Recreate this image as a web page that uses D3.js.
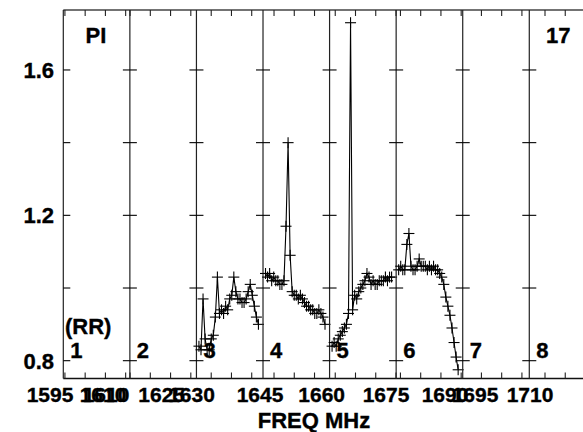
<!DOCTYPE html>
<html><head><meta charset="utf-8">
<script src="https://cdn.jsdelivr.net/npm/d3@7"></script>
<style>
html,body{margin:0;padding:0;background:#fff;}
svg{display:block;}
text{font-family:"Liberation Sans",Arial,sans-serif;font-weight:bold;fill:#000;stroke:#000;stroke-width:0.35px;}
</style></head>
<body>
<svg id="chart" width="583" height="432"></svg>
<script>
// ---- data ----
const panelNumbers = ["1","2","3","4","5","6","7","8"];
// start frequency (MHz) of each panel's axis
const panelStartFreq = [1594.6, 1609.95, 1626.35, 1642.28, 1658.6, 1673.94, 1690.38, 1706.12];
const panelSpanMHz = 16.44;
// spectra (PI) for panels 3..6, one value per channel
const spec3 = [0.84,0.83,0.97,0.86,0.83,0.83,0.86,0.87,0.92,1.03,0.93,0.94,0.93,0.95,0.94,0.97,0.98,1.03,0.99,0.97,0.97,0.96,0.96,0.97,0.99,1.01,0.98,0.95,0.92,0.90];
const spec4 = [1.04,1.03,1.04,1.02,1.03,1.02,1.02,1.01,1.01,1.02,1.17,1.40,1.09,0.99,0.98,0.98,0.97,0.98,0.97,0.96,0.95,0.95,0.94,0.94,0.93,0.93,0.94,0.93,0.92,0.90];
const spec5 = [0.84,0.85,0.84,0.86,0.87,0.88,0.89,0.90,0.93,1.73,0.94,0.98,0.97,0.99,1.00,1.01,1.02,1.04,1.03,1.01,1.02,1.01,1.01,1.02,1.02,1.02,1.03,1.02,1.03,1.03];
const spec6 = [1.05,1.06,1.05,1.05,1.12,1.15,1.06,1.05,1.05,1.06,1.08,1.06,1.06,1.06,1.05,1.06,1.05,1.06,1.05,1.05,1.04,1.03,1.01,0.975,0.95,0.925,0.89,0.85,0.81,0.775];
const spectra = [null, null, spec3, spec4, spec5, spec6, null, null];
const yTickValues = [0.8, 1.0, 1.2, 1.4, 1.6];
const yTickLabels = ["0.8", "", "1.2", "", "1.6"];
const xLabelValues = [1595, 1610, 1610, 1625, 1630, 1645, 1660, 1675, 1690, 1695, 1710];
const xLabelStops = [1595, 1610, 1625, 1630, 1645, 1660, 1675, 1690, 1695, 1710];
const titleLeft = "PI";
const titleRight = "17";
const polLabel = "(RR)";
const xTitle = "FREQ MHz";

// ---- layout ----
const svg = d3.select("#chart");
const mLeft = 63.3, mTop = 10, mBottom = 378.5, mRight = 583;
const panelW = 66.57;
const nP = panelNumbers.length;
const panelLeft = d3.scaleLinear().domain([0, nP]).range([mLeft, mLeft + nP * panelW]);
const y = d3.scaleLinear().domain([0.751, 1.765]).range([mBottom, mTop]);
const labelScale = d3.scaleLinear().domain(xLabelStops)
  .range([50, 103, 161.7, 191.5, 260, 321.7, 386, 445, 475, 530]);

const g = svg.append("g");

// frame
g.append("line").attr("x1", mLeft).attr("x2", mRight).attr("y1", mTop).attr("y2", mTop)
  .attr("stroke", "#444").attr("stroke-width", 1.5);
g.append("line").attr("x1", mLeft).attr("x2", mRight).attr("y1", mBottom).attr("y2", mBottom)
  .attr("stroke", "#111").attr("stroke-width", 1.4);

for (let i = 0; i < nP; i++) {
  const L = panelLeft(i);
  const fx = d3.scaleLinear().domain([panelStartFreq[i], panelStartFreq[i] + panelSpanMHz]).range([L, L + panelW]);
  g.append("line").attr("x1", L).attr("x2", L).attr("y1", mTop).attr("y2", mBottom)
    .attr("stroke", "#222").attr("stroke-width", 1.2);
  const ticks = d3.range(Math.ceil(panelStartFreq[i] / 5) * 5, panelStartFreq[i] + panelSpanMHz, 5);
  ticks.forEach(f => {
    const xx = fx(f);
    if (xx > mRight) return;
    g.append("line").attr("x1", xx).attr("x2", xx).attr("y1", mTop).attr("y2", mTop + 6).attr("stroke", "#222").attr("stroke-width", 1.1);
    g.append("line").attr("x1", xx).attr("x2", xx).attr("y1", mBottom).attr("y2", mBottom - 6).attr("stroke", "#222").attr("stroke-width", 1.1);
  });
  yTickValues.forEach(v => {
    g.append("line").attr("x1", i === 0 ? L : L - 7).attr("x2", L + 7)
      .attr("y1", y(v)).attr("y2", y(v)).attr("stroke", "#000").attr("stroke-width", 1.1);
  });
  g.append("text").attr("x", L + 7).attr("y", 358).attr("font-size", 22).text(panelNumbers[i]);

  const s = spectra[i];
  if (s) {
    const cx = d3.scaleLinear().domain([0, s.length - 1]).range([L + 2.5, L + 62]);
    const line = d3.line().x((d, k) => cx(k)).y(d => y(d));
    g.append("path").attr("d", line(s)).attr("fill", "none").attr("stroke", "#000").attr("stroke-width", 1.1);
    const cr = g.append("g").attr("stroke", "#000").attr("stroke-width", 1.1);
    s.forEach((v, k) => {
      const px = cx(k), py = y(v);
      cr.append("line").attr("x1", px - 5.5).attr("x2", px + 5.5).attr("y1", py).attr("y2", py);
      cr.append("line").attr("x1", px).attr("x2", px).attr("y1", py - 5.5).attr("y2", py + 5.5);
    });
  }
}

yTickValues.forEach((v, i) => {
  if (!yTickLabels[i]) return;
  g.append("text").attr("x", 54).attr("y", y(v) + 8).attr("text-anchor", "end")
    .attr("font-size", 22).text(yTickLabels[i]);
});

const seen = {};
xLabelValues.forEach(v => {
  const dup = seen[v] ? 3 : 0;
  seen[v] = true;
  g.append("text").attr("x", labelScale(v) + dup).attr("y", 402).attr("text-anchor", "middle")
    .attr("font-size", 21).text(String(v));
});

g.append("text").attr("x", 85.5).attr("y", 42.7).attr("font-size", 22).text(titleLeft);
g.append("text").attr("x", 546).attr("y", 43.3).attr("font-size", 22).text(titleRight);
g.append("text").attr("x", 65).attr("y", 334).attr("font-size", 22).text(polLabel);
g.append("text").attr("x", 314).attr("y", 428).attr("text-anchor", "middle").attr("font-size", 22).text(xTitle);
</script>
</body></html>
